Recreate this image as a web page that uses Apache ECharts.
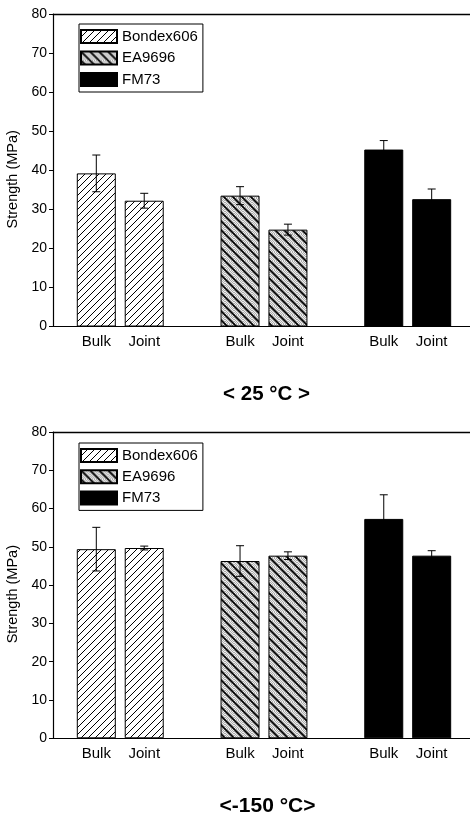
<!DOCTYPE html>
<html>
<head>
<meta charset="utf-8">
<script src="https://cdn.jsdelivr.net/npm/echarts@6/dist/echarts.min.js"></script>
<style>
  html, body { margin: 0; padding: 0; background: #fff; }
  #chart { width: 470px; height: 814px; }
</style>
</head>
<body>
<div id="chart"></div>
<script>
// ---------- data ----------
const materials = ['Bondex606', 'EA9696', 'FM73'];
const xLabels = ['Bulk', 'Joint'];
const yTicks = [0, 10, 20, 30, 40, 50, 60, 70, 80];
const titleTop = '< 25 °C >';
const titleBottom = '<-150 °C>';

// 25 °C (top panel): [Bulk, Joint]
const bondex25 = [39.2, 32.2];
const bondex25Err = [4.7, 1.9];
const ea25 = [33.5, 24.8];
const ea25Err = [2.3, 1.4];
const fm25 = [45.3, 32.6];
const fm25Err = [2.3, 2.6];

// -150 °C (bottom panel): [Bulk, Joint]
const bondex150 = [49.4, 49.7];
const bondex150Err = [5.7, 0.5];
const ea150 = [46.3, 47.7];
const ea150Err = [4.0, 1.0];
const fm150 = [57.3, 47.7];
const fm150Err = [6.3, 1.3];

// ---------- patterns ----------
function hatchPattern() {
  const s = 7;
  const c = document.createElement('canvas');
  c.width = s; c.height = s;
  const g = c.getContext('2d');
  g.fillStyle = '#fff'; g.fillRect(0, 0, s, s);
  g.strokeStyle = '#000'; g.lineWidth = 1;
  g.beginPath();
  g.moveTo(-1, s + 1); g.lineTo(s + 1, -1);
  g.moveTo(-1, 1); g.lineTo(1, -1);
  g.moveTo(s - 1, s + 1); g.lineTo(s + 1, s - 1);
  g.stroke();
  return c;
}
function stippleHatchPattern() {
  const s = 9;
  const c = document.createElement('canvas');
  c.width = s; c.height = s;
  const g = c.getContext('2d');
  for (let y = 0; y < s; y++) {
    for (let x = 0; x < s; x++) {
      g.fillStyle = ((x + y) % 2 === 0) ? '#aaaaaa' : '#eeeeee';
      g.fillRect(x, y, 1, 1);
    }
  }
  g.strokeStyle = '#000'; g.lineWidth = 1.7;
  g.beginPath();
  g.moveTo(-1, -1); g.lineTo(s + 1, s + 1);
  g.moveTo(-1, s - 1); g.lineTo(1, s + 1);
  g.moveTo(s - 1, -1); g.lineTo(s + 1, 1);
  g.stroke();
  return c;
}
const fills = [
  { image: hatchPattern(), repeat: 'repeat' },
  { image: stippleHatchPattern(), repeat: 'repeat' },
  '#000'
];

// ---------- helpers ----------
const FONT = 'Liberation Sans, Arial, sans-serif';
const xMin = -0.904, xMax = 7.8;
const groupStride = 3; // Bulk, Joint, spacer
const labelPositions = [];
materials.forEach((m, g) => xLabels.forEach((l, c) => labelPositions.push(g * groupStride + c)));

function pts(vals, g) { return vals.map((v, c) => [g * groupStride + c, v]); }
function errPts(vals, errs, g) { return vals.map((v, c) => [g * groupStride + c, v, errs[c]]); }

const panels = [
  { vals: [bondex25, ea25, fm25], errs: [bondex25Err, ea25Err, fm25Err] },
  { vals: [bondex150, ea150, fm150], errs: [bondex150Err, ea150Err, fm150Err] }
];

const grids = [
  { left: 53, right: 0, top: 14, height: 312.5, outerBoundsMode: 'none', containLabel: false },
  { left: 53, right: 0, top: 432, height: 306.3, outerBoundsMode: 'none', containLabel: false }
];

const xAxes = [], yAxes = [], series = [];
grids.forEach((gr, i) => {
  xAxes.push({
    type: 'value', gridIndex: i, min: xMin, max: xMax, position: 'bottom',
    splitLine: { show: false },
    axisLine: { show: true, onZero: false, lineStyle: { color: '#000', width: 1.2 } },
    axisTick: { show: false },
    axisLabel: {
      customValues: labelPositions,
      formatter: v => xLabels[Math.round(v) % groupStride],
      color: '#000', fontFamily: FONT, fontSize: 15, margin: 8
    }
  });
  xAxes.push({
    type: 'value', gridIndex: i, min: xMin, max: xMax, position: 'top',
    splitLine: { show: false },
    axisLine: { show: true, onZero: false, lineStyle: { color: '#000', width: 1.4 } },
    axisTick: { show: false }, axisLabel: { show: false }
  });
  yAxes.push({
    type: 'value', gridIndex: i, min: yTicks[0], max: yTicks[yTicks.length - 1], interval: 10,
    name: 'Strength (MPa)', nameLocation: 'middle', nameGap: 31,
    nameTextStyle: { color: '#000', fontFamily: FONT, fontSize: 14.5, padding: [0, 18, 0, 0] },
    splitLine: { show: false },
    axisLine: { show: true, onZero: false, lineStyle: { color: '#000', width: 1.2 } },
    axisTick: { show: true, length: 4, lineStyle: { color: '#000' } },
    axisLabel: { color: '#000', fontFamily: FONT, fontSize: 14, margin: 6 }
  });
  const p = panels[i];
  materials.forEach((m, g) => {
    series.push({
      name: m, type: 'bar', xAxisIndex: i * 2, yAxisIndex: i,
      barWidth: 39, barGap: '-100%',
      itemStyle: { color: fills[g], borderColor: '#000', borderWidth: 1 },
      data: pts(p.vals[g], g)
    });
  });
  const errData = [];
  materials.forEach((m, g) => errPts(p.vals[g], p.errs[g], g).forEach(d => errData.push(d)));
  series.push({
    type: 'custom', xAxisIndex: i * 2, yAxisIndex: i, z: 10,
    data: errData,
    renderItem: (params, api) => {
      const x = api.value(0), v = api.value(1), e = api.value(2);
      const top = api.coord([x, v + e]);
      const bot = api.coord([x, v - e]);
      const cw = 4;
      const st = { stroke: '#000', lineWidth: 1 };
      return {
        type: 'group',
        children: [
          { type: 'line', shape: { x1: top[0], y1: top[1], x2: bot[0], y2: bot[1] }, style: st },
          { type: 'line', shape: { x1: top[0] - cw, y1: top[1], x2: top[0] + cw, y2: top[1] }, style: st },
          { type: 'line', shape: { x1: bot[0] - cw, y1: bot[1], x2: bot[0] + cw, y2: bot[1] }, style: st }
        ]
      };
    }
  });
});

const legendBase = {
  orient: 'vertical', left: 79, data: materials, icon: 'rect',
  itemWidth: 36, itemHeight: 13, itemGap: 6.5,
  padding: [5, 5, 5, 1],
  borderColor: '#000', borderWidth: 1, backgroundColor: '#fff',
  textStyle: { color: '#000', fontFamily: FONT, fontSize: 15 },
  selectedMode: false
};

const option = {
  animation: false,
  backgroundColor: '#fff',
  grid: grids,
  xAxis: xAxes,
  yAxis: yAxes,
  legend: [
    Object.assign({}, legendBase, { top: 24 }),
    Object.assign({}, legendBase, { top: 443, itemGap: 6.2 })
  ],
  graphic: [
    { type: 'text', x: 266.5, y: 394.5, style: { text: titleTop, font: 'bold 20.5px ' + FONT, fill: '#000', align: 'center', verticalAlign: 'middle' } },
    { type: 'text', x: 267.5, y: 806, style: { text: titleBottom, font: 'bold 21px ' + FONT, fill: '#000', align: 'center', verticalAlign: 'middle' } }
  ],
  series: series
};

const chart = echarts.init(document.getElementById('chart'), null, { renderer: 'canvas' });
chart.setOption(option);
</script>
</body>
</html>
